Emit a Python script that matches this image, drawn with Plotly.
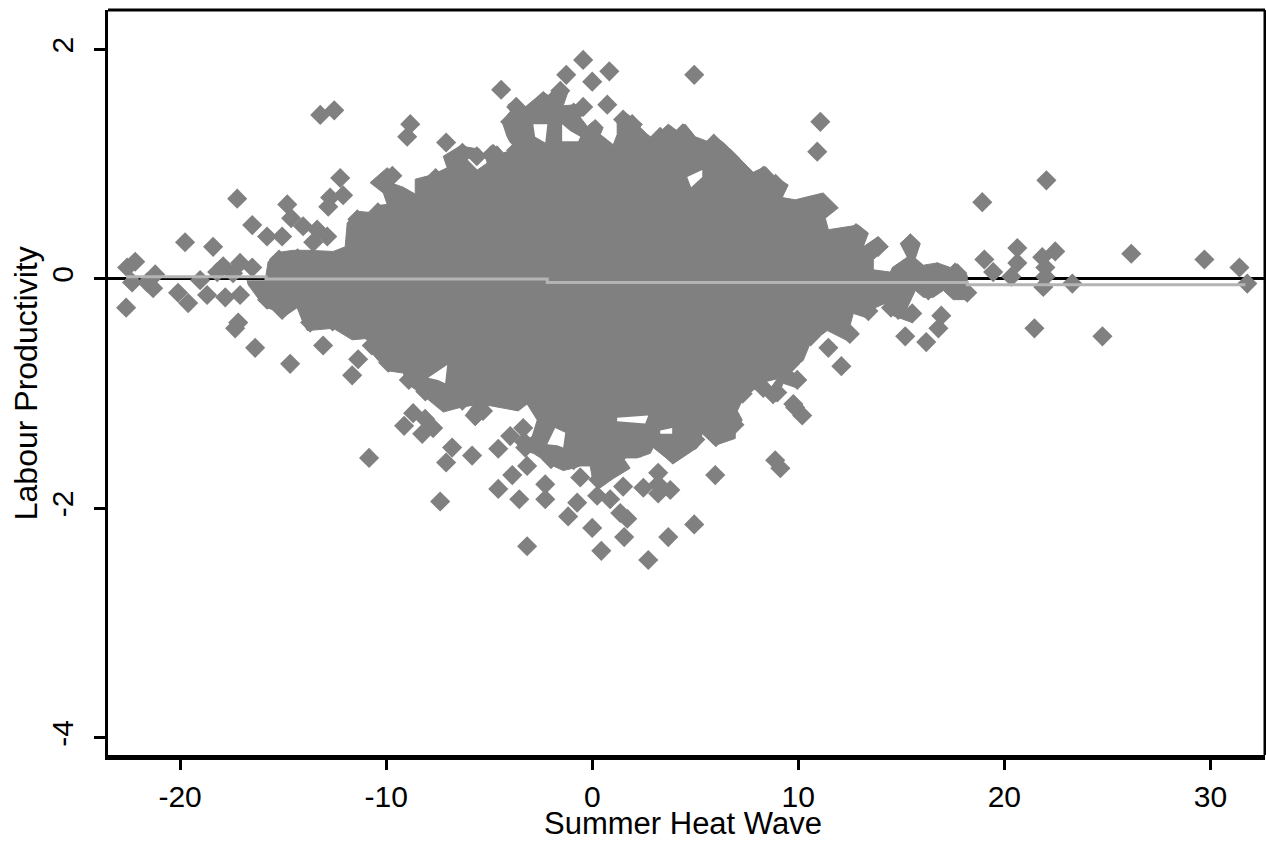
import plotly.graph_objects as go

GREY = "#808080"
FIT = "#b4b4b4"

X_TICKS = [-20, -10, 0, 10, 20, 30]
X_LABELS = ["-20", "-10", "0", "10", "20", "30"]
Y_TICKS = [-4, -2, 0, 2]
Y_LABELS = ["-4", "-2", "0", "2"]
X_TITLE = "Summer Heat Wave"
Y_TITLE = "Labour Productivity"

# Outline of the solid region where the points merge (x, y pairs)
cloud = [
(-15.87,-0.01),(-15.73,0.15),(-15.29,0.23),(-14.51,0.25),(-13.83,0.25),(-12.57,0.24),(-11.99,0.28),(-11.89,0.49),
(-11.41,0.59),(-10.78,0.58),(-10.44,0.64),(-9.95,0.65),(-10.14,0.75),(-10.78,0.84),(-9.95,0.97),(-9.56,0.91),
(-9.81,0.84),(-9.17,0.80),(-8.59,0.74),(-8.59,0.87),(-7.72,0.91),(-7.04,0.97),(-7.23,1.07),(-6.41,1.16),
(-5.44,1.13),(-6.07,1.04),(-5.58,0.95),(-5.10,1.01),(-5.19,1.11),(-4.61,1.16),(-4.32,1.10),(-3.64,1.13),
(-3.98,1.19),(-4.13,1.24),(-4.37,1.37),(-3.98,1.46),(-4.08,1.52),(-3.64,1.57),(-3.25,1.50),(-2.38,1.63),
(-1.89,1.57),(-2.18,1.48),(-1.94,1.64),(-1.55,1.70),(-1.16,1.64),(-1.41,1.51),(-0.73,1.52),(-0.44,1.57),
(0,1.50),(-0.58,1.41),(-0.24,1.33),(0.15,1.39),(0.53,1.32),(0.39,1.26),(1.02,1.17),(1.21,1.26),(1.21,1.41),
(1.50,1.46),(2.43,1.35),(1.84,1.22),(2.48,1.29),(2.96,1.22),(3.40,1.30),(3.69,1.35),(4.13,1.29),(4.51,1.35),
(5.00,1.24),(5.58,1.20),(5.97,1.24),(6.36,1.19),(7.04,1.07),(7.81,0.93),(8.40,0.98),(8.88,0.89),(9.51,0.82),
(9.22,0.71),(9.85,0.69),(11.21,0.75),(11.94,0.62),(11.31,0.53),(11.46,0.43),(12.91,0.47),(13.40,0.40),(13.15,0.28),
(13.88,0.37),(14.37,0.28),(13.64,0.17),(13.64,0.08),(14.47,0.06),(14.56,0.10),(15.29,0.19),(14.95,0.31),(15.44,0.39),
(15.92,0.31),(15.68,0.18),(16.07,0.12),(16.75,0.14),(17.38,0.10),(17.62,0.14),(18.20,0.03),(18.20,-0.07),(18.59,-0.11),
(18.25,-0.18),(17.52,-0.18),(17.04,-0.10),(16.55,-0.16),(16.07,-0.16),(15.68,-0.10),(15.29,-0.25),(15.92,-0.30),
(15.53,-0.38),(14.61,-0.32),(14.37,-0.20),(13.74,-0.25),(13.35,-0.34),(12.67,-0.30),(12.52,-0.40),(12.91,-0.47),
(12.52,-0.55),(11.41,-0.45),(10.58,-0.56),(10.24,-0.71),(9.61,-0.80),(10.34,-0.88),(9.95,-0.95),(9.27,-0.91),
(8.79,-1.09),(8.40,-1.02),(8.98,-0.87),(8.30,-0.90),(7.33,-1.04),(7.04,-1.15),(7.28,-1.23),(6.94,-1.32),(6.94,-1.39),
(5.97,-1.45),(5.34,-1.35),(5.10,-1.47),(3.93,-1.61),(2.96,-1.47),(2.82,-1.52),(2.18,-1.56),(1.50,-1.56),(1.84,-1.65),
(1.02,-1.74),(0.39,-1.82),(0,-1.73),(-0.10,-1.63),(-0.58,-1.63),(-0.92,-1.65),(-1.41,-1.67),(-1.89,-1.63),(-2.86,-1.52),
(-3.64,-1.48),(-2.91,-1.37),(-2.67,-1.23),(-3.16,-1.09),(-3.59,-1.15),(-5.10,-1.10),(-5.29,-1.21),(-5.68,-1.28),
(-6.16,-1.19),(-5.78,-1.10),(-6.41,-1.12),(-7.23,-1.16),(-8.11,-1.03),(-8.98,-0.91),(-8.93,-0.95),(-9.17,-0.82),
(-9.95,-0.80),(-10.68,-0.65),(-10.44,-0.60),(-11.02,-0.52),(-11.65,-0.53),(-12.57,-0.43),(-13.54,-0.45),(-13.83,-0.45),
(-14.08,-0.36),(-14.32,-0.25),(-15.05,-0.34),(-15.48,-0.27),(-15.78,-0.25),(-16.21,-0.17),(-16.70,-0.05),(-16.75,-0.01),
]

# Larger white gaps inside the merged region
gaps = [
[(4.61,0.89),(5.34,0.95),(5.34,0.89),(4.80,0.80)],
[(-7.96,-0.86),(-7.04,-0.75),(-7.14,-0.91),(-7.48,-0.88)],
[(-2.18,-1.44),(-1.80,-1.30),(-1.31,-1.34),(-1.41,-1.47),(-1.70,-1.45)],
[(3.30,-1.32),(3.88,-1.30),(3.88,-1.35),(3.30,-1.35)],
[(1.21,-1.21),(2.72,-1.19),(2.57,-1.26),(1.21,-1.24)],
[(-2.86,1.35),(-2.18,1.35),(-2.28,1.19),(-2.77,1.24)],
[(-1.46,1.35),(-1.07,1.29),(-0.58,1.24),(-0.68,1.20),(-1.46,1.20)],
]

# Separately visible points
points = [
(-13.20,1.43),(-12.52,1.47),(-8.83,1.35),(-8.98,1.24),(-7.09,1.19),(-4.42,1.65),(-12.23,0.88),(-12.09,0.73),
(-12.72,0.71),(-12.81,0.63),(-14.80,0.65),(-14.61,0.53),(-17.23,0.70),(-16.50,0.47),(-15.78,0.37),(-15.05,0.37),
(-19.76,0.32),(-18.40,0.28),(-22.18,0.15),(-22.57,0.10),(-21.21,0.04),(-17.91,0.11),(-17.09,0.14),(-16.50,0.10),
(-18.20,0.06),(-17.43,0.05),(-19.03,-0.01),(-22.33,-0.03),(-21.31,-0.08),(-21.60,-0.03),(-20.10,-0.12),(-19.61,-0.21),
(-18.69,-0.14),(-17.81,-0.16),(-17.09,-0.14),(-14.03,0.46),(-13.35,0.43),(-12.86,0.37),(-13.54,0.32),(-22.62,-0.25),
(-17.18,-0.38),(-17.33,-0.43),(-16.36,-0.60),(-14.66,-0.74),(-13.06,-0.58),(-11.36,-0.70),(-11.65,-0.84),(-15.05,-0.27),
(-13.69,-0.38),(-15.78,-0.18),(-8.69,-1.17),(-9.13,-1.28),(-8.11,-1.22),(-7.72,-1.30),(-8.25,-1.35),(-5.68,-1.19),
(-6.80,-1.47),(-7.09,-1.60),(-5.83,-1.54),(-10.83,-1.56),(-4.56,-1.48),(-4.56,-1.83),(-7.38,-1.94),(-3.88,-1.71),
(-3.16,-1.63),(-3.54,-1.92),(-2.28,-1.79),(-2.28,-1.92),(-3.16,-2.33),(-3.98,-1.37),(-3.35,-1.30),(-3.25,-1.47),
(-0.58,-1.73),(0.24,-1.89),(0.87,-1.92),(-0.73,-1.95),(-1.17,-2.07),(1.36,-2.04),(1.70,-2.09),(0,-2.17),(1.55,-2.25),
(0.44,-2.37),(3.69,-2.25),(4.95,-2.14),(2.72,-2.45),(5.97,-1.71),(1.50,-1.81),(2.48,-1.82),(3.20,-1.69),(3.20,-1.79),
(3.79,-1.84),(3.20,-1.87),(8.88,-1.58),(9.13,-1.65),(8.98,-0.99),(9.85,-1.12),(10.19,-1.19),(6.21,-1.35),(2.33,-1.47),
(-0.44,1.91),(-1.26,1.78),(0.83,1.81),(0,1.72),(-1.55,1.64),(4.95,1.78),(11.07,1.37),(10.92,1.11),(0.73,1.52),
(-3.69,1.50),(-2.38,1.55),(-2.72,1.48),(-3.98,1.37),(-0.44,1.50),(1.50,1.39),(1.94,1.35),(-3.40,1.24),(-4.81,1.09),
(22.04,0.86),(18.93,0.67),(15.44,0.31),(13.88,0.28),(20.63,0.27),(20.63,0.14),(22.47,0.24),(21.84,0.19),(21.99,0.10),
(21.99,0.02),(21.89,-0.07),(23.30,-0.04),(26.16,0.22),(29.71,0.17),(31.41,0.10),(31.79,-0.04),(19.03,0.17),(19.46,0.06),
(20.34,0.02),(16.94,-0.32),(16.80,-0.43),(15.19,-0.50),(16.21,-0.55),(21.46,-0.43),(24.76,-0.50),(11.46,-0.60),
(12.09,-0.76),(8.88,-0.99),(9.95,-0.88),(9.76,-1.09),(15.53,-0.30),(17.72,0.05),(18.20,-0.12),(14.85,-0.27),(16.75,0.06),
(16.31,-0.10),
# points along the rim of the merged region
(-10.10,0.83),(-9.70,0.90),(-7.60,0.88),(-6.30,1.10),(-5.60,1.07),(-4.90,1.08),(-3.70,1.12),(-3.00,1.45),(-1.95,1.55),
(-0.90,1.45),(2.10,1.28),(3.30,1.24),(4.40,1.27),(5.90,1.18),(6.70,1.05),(8.30,0.90),(8.90,0.83),(11.20,0.65),(12.80,0.40),
(-11.40,0.52),(-10.40,0.58),(-15.20,0.17),(-14.30,0.18),(-9.90,-0.73),(-10.70,-0.58),(-12.60,-0.37),(-8.90,-0.88),(-8.10,-0.98),
(-6.30,-1.06),(-5.30,-1.15),(-3.30,-1.42),(-2.00,-1.57),(-0.90,-1.58),(0.30,-1.75),(1.50,-1.50),(3.90,-1.53),(5.00,-1.40),
(6.00,-1.38),(6.90,-1.27),(7.30,-1.00),(8.30,-0.95),(9.60,-0.74),(10.60,-0.50),(12.50,-0.48),(13.40,-0.28),(14.50,-0.25),
]

# Fitted step line
fit_x = [-22.62, -15.83, -15.83, -2.18, -2.18, 18.20, 18.20, 31.70]
fit_y = [0.02, 0.02, -0.00, -0.00, -0.03, -0.03, -0.05, -0.05]

XR = [-23.5, 32.65]
YR = [-4.15, 2.345]

fig = go.Figure()
fig.add_trace(go.Scatter(
    x=[p[0] for p in cloud], y=[p[1] for p in cloud], mode="lines", fill="toself",
    fillcolor=GREY, line=dict(color=GREY, width=1), showlegend=False, hoverinfo="skip"))

gx, gy = [], []
for g in gaps:
    gx += [p[0] for p in g] + [g[0][0], None]
    gy += [p[1] for p in g] + [g[0][1], None]
fig.add_trace(go.Scatter(
    x=gx, y=gy, mode="lines", fill="toself", fillcolor="white",
    line=dict(color="white", width=0), showlegend=False, hoverinfo="skip"))

fig.add_trace(go.Scatter(
    x=[p[0] for p in points], y=[p[1] for p in points], mode="markers",
    marker=dict(symbol="diamond", size=15.5, color=GREY, line=dict(width=0)),
    showlegend=False))
fig.add_trace(go.Scatter(
    x=fit_x, y=fit_y, mode="lines", line=dict(color=FIT, width=3), showlegend=False))

FONT = dict(family="Liberation Sans, Arial, sans-serif", color="black")
fig.update_layout(
    width=1266, height=842, autosize=False,
    margin=dict(l=108, r=1, t=10, b=87),
    paper_bgcolor="white", plot_bgcolor="white",
    showlegend=False,
    xaxis=dict(range=XR, tickvals=X_TICKS, ticktext=X_LABELS, ticks="outside", ticklen=10, tickwidth=3, tickcolor="black",
               showgrid=False, zeroline=False, showline=True, linewidth=5, linecolor="black",
               ticklabelstandoff=1, tickfont=dict(size=30, **FONT)),
    yaxis=dict(range=YR, tickvals=Y_TICKS, ticktext=Y_LABELS, ticks="outside", ticklen=11, tickwidth=3, tickcolor="black",
               showgrid=False, zeroline=True, zerolinewidth=3, zerolinecolor="black",
               showline=True, linewidth=3, linecolor="black", tickangle=-90,
               ticklabelstandoff=9, tickfont=dict(size=30, **FONT)),
    shapes=[
        dict(type="line", xref="paper", yref="paper", x0=0, x1=1, y0=1, y1=1, line=dict(color="black", width=3)),
        dict(type="line", xref="paper", yref="paper", x0=1, x1=1, y0=0, y1=1, line=dict(color="black", width=3)),
    ],
    annotations=[
        dict(text=X_TITLE, xref="paper", yref="paper", x=0.497, y=0, yanchor="top", yshift=-49,
             showarrow=False, font=dict(size=31, **FONT)),
        dict(text=Y_TITLE, xref="paper", yref="paper", x=0, xanchor="right", xshift=-62, y=0.499,
             textangle=-90, showarrow=False, font=dict(size=32, **FONT)),
    ],
)

fig.write_html("out.html", config=dict(displayModeBar=False),
               post_script="document.body.style.margin='0';document.body.style.overflow='hidden';")
